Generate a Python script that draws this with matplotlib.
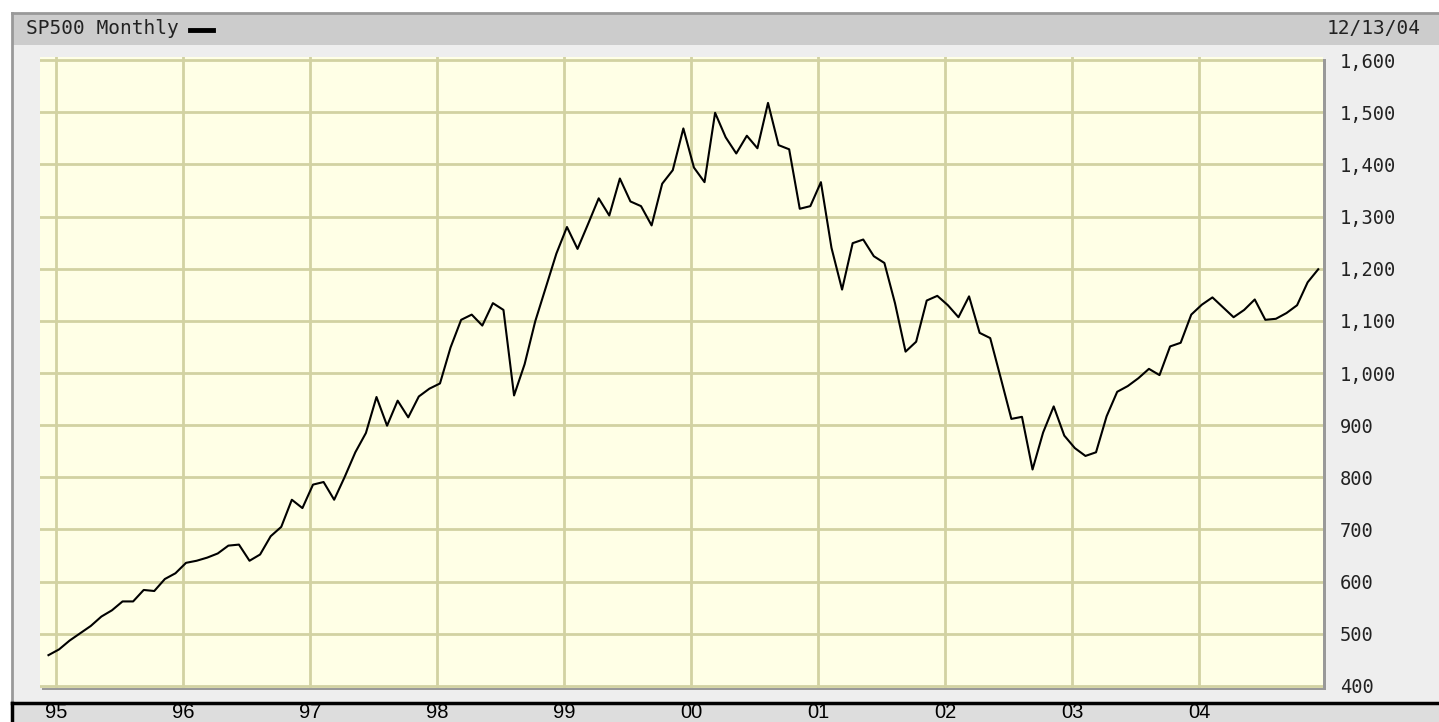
import numpy as np
import matplotlib
matplotlib.use("Agg")
import matplotlib.pyplot as plt
import matplotlib.transforms as mtrans
from matplotlib.patches import Rectangle

W, H = 1439, 722

# monthly closes, Dec 1994 .. Dec 2004
closes = [
    459, 470, 487, 501, 515, 533, 545, 562, 562, 584, 582, 605, 616,
    636, 640, 646, 654, 669, 671, 640, 652, 687, 705, 757, 741,
    786, 791, 757, 801, 848, 885, 954, 899, 947, 915, 955, 970,
    980, 1049, 1102, 1112, 1091, 1134, 1121, 957, 1017, 1099, 1164, 1229,
    1280, 1238, 1286, 1335, 1302, 1373, 1329, 1320, 1283, 1363, 1389, 1469,
    1394, 1366, 1499, 1452, 1421, 1455, 1431, 1518, 1437, 1429, 1315, 1320,
    1366, 1240, 1160, 1249, 1256, 1224, 1211, 1134, 1041, 1060, 1139, 1148,
    1130, 1107, 1147, 1077, 1067, 990, 912, 916, 815, 886, 936, 880,
    856, 841, 848, 917, 964, 975, 990, 1008, 996, 1051, 1058, 1112,
    1131, 1145, 1126, 1107, 1121, 1141, 1102, 1104, 1115, 1130, 1174, 1199,
]
years = [1995, 1996, 1997, 1998, 1999, 2000, 2001, 2002, 2003, 2004]
year_labels = ['95', '96', '97', '98', '99', '00', '01', '02', '03', '04']
y_ticks = [400, 500, 600, 700, 800, 900, 1000, 1100, 1200, 1300, 1400, 1500, 1600]

x = 1995 + (np.arange(len(closes)) - 0.75) / 12.0

fig = plt.figure(figsize=(W / 100, H / 100), dpi=100)
fig.patch.set_facecolor('white')

def fx(px):
    return px / W

def fy(py):
    return 1 - py / H

# panel background and header
fig.patches.append(Rectangle((fx(12), fy(703)), fx(W - 12), fy(45) - fy(703),
                             transform=fig.transFigure, facecolor='#eeeeee', edgecolor='none', zorder=0))
fig.patches.append(Rectangle((fx(12), fy(45)), fx(W - 12), fy(13) - fy(45),
                             transform=fig.transFigure, facecolor='#cccccc', edgecolor='none', zorder=0))
fig.add_artist(plt.Line2D([fx(12), fx(12)], [fy(13), fy(703)], transform=fig.transFigure, color='#999999', lw=2))
fig.add_artist(plt.Line2D([fx(12), fx(W)], [fy(13), fy(13)], transform=fig.transFigure, color='#999999', lw=2))

# bottom strip
fig.patches.append(Rectangle((fx(12), 0), fx(W - 12), fy(703),
                             transform=fig.transFigure, facecolor='#dddddd', edgecolor='none', zorder=0))
fig.add_artist(plt.Line2D([fx(12), fx(W)], [fy(703), fy(703)], transform=fig.transFigure, color='black', lw=2.5))
fig.add_artist(plt.Line2D([fx(12), fx(12)], [0, fy(703)], transform=fig.transFigure, color='black', lw=2.5))

# plot shadow
fig.patches.append(Rectangle((fx(42), fy(690)), fx(1326 - 42), fy(59) - fy(690),
                             transform=fig.transFigure, facecolor='#999999', edgecolor='none', zorder=0))

mono = 'DejaVu Sans Mono'
fig.text(fx(26), fy(29), 'SP500 Monthly', family=mono, fontsize=14, va='center', ha='left', color='#222222')
fig.add_artist(plt.Line2D([fx(190), fx(213)], [fy(30), fy(30)], transform=fig.transFigure, color='black', lw=3.5))
fig.text(fx(1421), fy(29), '12/13/04', family=mono, fontsize=14, va='center', ha='right', color='#222222')

ax = fig.add_axes([fx(40), fy(688), fx(1323 - 40), fy(57) - fy(688)])
ax.set_zorder(5)
ax.set_facecolor('#ffffe6')
ax.plot(x, closes, color='black', lw=1.5, zorder=3)
ax.set_xlim(x[0] - 0.5 / 12 - 0.3 / 12, x[-1] + 0.45 / 12)
ax.set_ylim(396, 1606)
ax.set_xticks(years)
ax.set_yticks(y_ticks)
ax.grid(True, color='#d2d2a2', lw=2)
ax.tick_params(axis='x', length=0, labelbottom=False)
ax.yaxis.tick_right()
ax.tick_params(axis='y', length=0, pad=12, labelsize=13.5, labelcolor='#222222')
ax.set_yticklabels([f'{v:,}' for v in y_ticks])
for lab in ax.get_yticklabels():
    lab.set_family(mono)
for s in ax.spines.values():
    s.set_visible(False)

tr = mtrans.blended_transform_factory(ax.transData, fig.transFigure)
for yr, lab in zip(years, year_labels):
    ax.text(yr, fy(713), lab, transform=tr, ha='center', va='center', fontsize=14.5,
            family='Liberation Sans', color='black', clip_on=False)

fig.savefig('out.png', dpi=100, facecolor=fig.get_facecolor())
